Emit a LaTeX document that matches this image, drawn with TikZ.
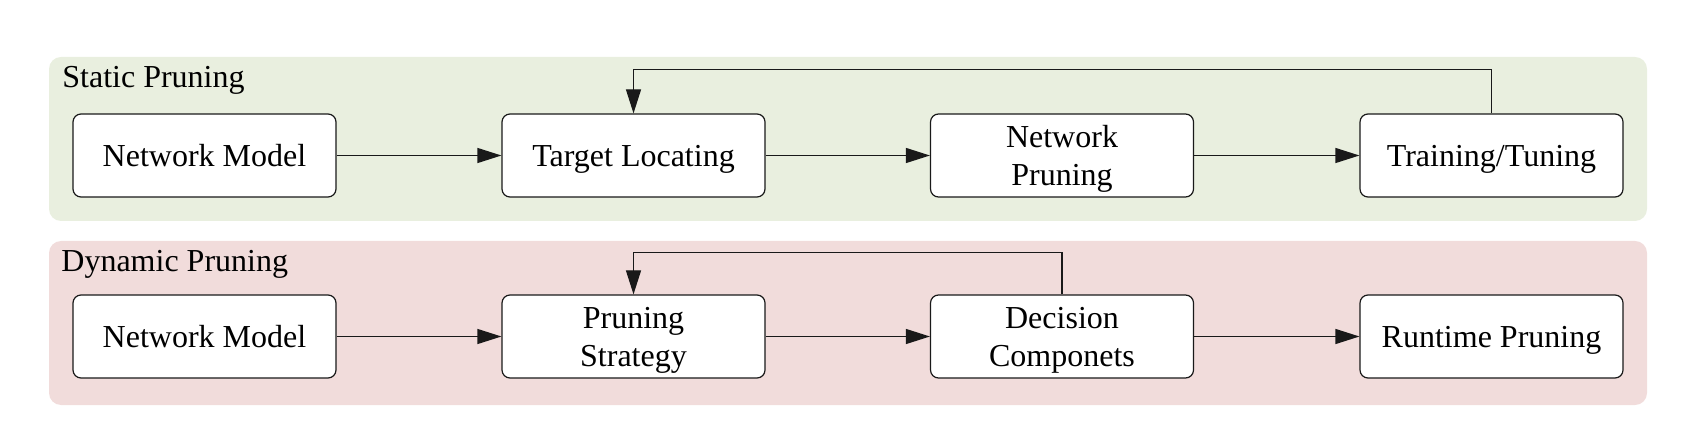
\documentclass[tikz,border=0pt]{standalone}
\usepackage{fontspec}
\setmainfont{Liberation Serif}
\usetikzlibrary{arrows.meta}
\definecolor{staticbg}{RGB}{233,239,223}
\definecolor{dynbg}{RGB}{241,220,219}
\definecolor{linegray}{RGB}{25,25,25}
\begin{document}
\begin{tikzpicture}[x=0.5pt,y=-0.5pt,
  box/.style={draw=linegray, rounded corners=4pt, fill=white, minimum width=131.5pt, minimum height=41.5pt,
    align=center, font=\fontsize{16}{19}\selectfont, inner sep=0pt, text depth=0pt, line width=0.6pt},
  panel/.style={rounded corners=6pt, draw=none},
  paneltitle/.style={anchor=base west, inner sep=0pt, font=\fontsize{16}{19}\selectfont},
  conn/.style={draw=linegray, line width=0.6pt, -{Triangle[length=12pt,width=7.5pt]}}]
\useasboundingbox (0,0) rectangle (1700,448);
% panels
\fill[panel, staticbg] (49,57) rectangle (1647,221);
\fill[panel, dynbg] (49,241) rectangle (1647,405);
\node[paneltitle] (tstatic) at (62,88) {Static Pruning};
\node[paneltitle] (tdyn) at (61,272) {Dynamic Pruning};
% static row
\node[box] (s1) at (204.5,155.5) {Network Model};
\node[box] (s2) at (633.5,155.5) {Target Locating};
\node[box] (s3) at (1062,155.5) {Network\\Pruning};
\node[box] (s4) at (1491.5,155.5) {Training/Tuning};
% dynamic row
\node[box] (d1) at (204.5,336.5) {Network Model};
\node[box] (d2) at (633.5,336.5) {Pruning\\Strategy};
\node[box] (d3) at (1062,336.5) {Decision\\Componets};
\node[box] (d4) at (1491.5,336.5) {Runtime Pruning};
% connectors
\draw[conn] (s1) -- (s2);
\draw[conn] (s2) -- (s3);
\draw[conn] (s3) -- (s4);
\draw[conn] (s4.north) -- ++(0,-43.5) -| (s2.north);
\draw[conn] (d1) -- (d2);
\draw[conn] (d2) -- (d3);
\draw[conn] (d3) -- (d4);
\draw[conn] (d3.north) -- ++(0,-41.5) -| (d2.north);
\end{tikzpicture}
\end{document}
